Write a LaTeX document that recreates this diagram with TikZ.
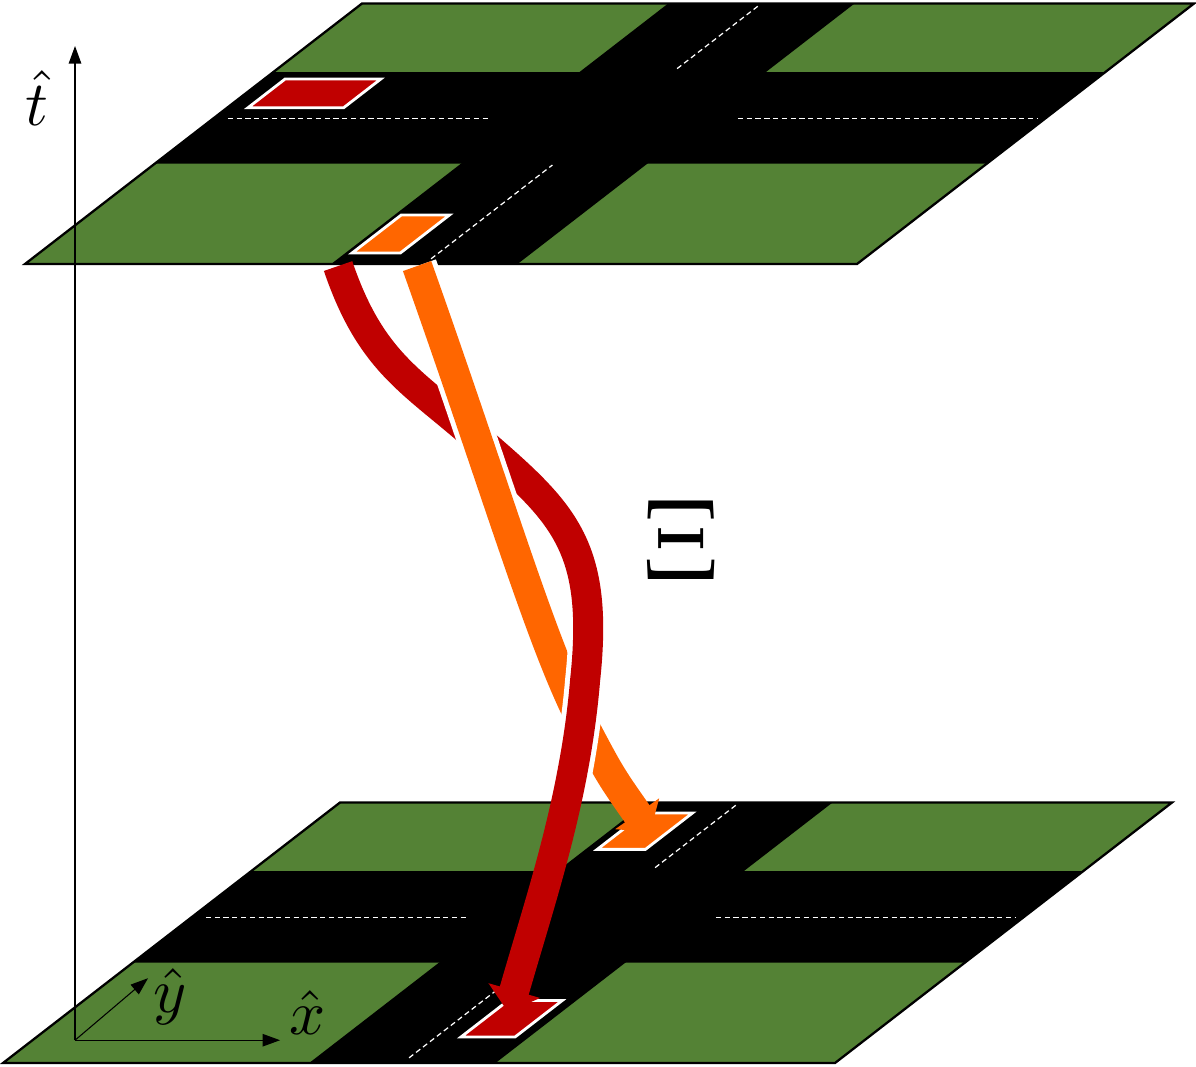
\documentclass[tikz,border=0pt]{standalone}
\usepackage{amsmath}
\usepackage{graphicx}
\usetikzlibrary{arrows.meta}
\definecolor{grass}{RGB}{84,130,53}
\definecolor{carred}{RGB}{192,0,0}
\definecolor{carorange}{RGB}{255,102,0}

% a patch of a plane, given by its two corners in plane coordinates
\newcommand{\patch}[4]{(#1,#2) -- (#3,#2) -- (#3,#4) -- (#1,#4) -- cycle}

% one crossroads scene, in unit coordinates of its plane
\newcommand{\crossing}{%
    \fill[grass] \patch{0}{0}{1}{1};
    \fill[black] \patch{0}{0.385}{1}{0.737};
    \fill[black] \patch{0.368}{0}{0.592}{1};
    \draw[lane] (0.017,0.56) -- (0.33,0.56);
    \draw[lane] (0.63,0.56) -- (0.99,0.56);
    \draw[lane] (0.48,0.02) -- (0.48,0.38);
    \draw[lane] (0.48,0.75) -- (0.48,0.99);
    \draw[line width=1.3pt, line join=miter] \patch{0}{0}{1}{1};
}

\begin{document}
\begin{tikzpicture}[
    lane/.style={white, dash pattern=on 3pt off 2pt, line width=0.7pt},
    car/.style={draw=white, line width=1.6pt},
    plane/.style={x={(16.64cm,0cm)}, y={(6.74cm,5.21cm)}},
    ribbon/.style={line width=0.6cm, -{Triangle[length=0.45cm,width=1.05cm]}},
    casing/.style={white, line width=0.8cm},
    axis/.style={-{Triangle[length=0.35cm,width=0.25cm]}, line width=0.6pt},
    label/.style={inner sep=0pt}
]
    \useasboundingbox (0,0) rectangle (23.92,-21.32);

    % scene at the start time
    \begin{scope}[shift={(0.06,-21.26)}, plane]
        \crossing
        \filldraw[car, fill=carred] \patch{0.51}{0.1}{0.575}{0.24};
        \filldraw[car, fill=carorange] \patch{0.382}{0.82}{0.44}{0.96};
    \end{scope}

    % scene at the later time
    \begin{scope}[shift={(0.5,-5.28)}, plane]
        \crossing
        \filldraw[car, fill=carred] \patch{0.025}{0.6}{0.14}{0.71};
        \filldraw[car, fill=carorange] \patch{0.376}{0.042}{0.434}{0.188};
    \end{scope}

    % trajectories between the two scenes
    \begin{scope}[x=0.02cm, y=-0.02cm]
        \coordinate (redA) at (338,266);
        \coordinate (redB) at (470,432);
        \coordinate (redC) at (585,680);
        \coordinate (redD) at (508,1012);
        \coordinate (orA) at (417,266);
        \coordinate (orB) at (582,722);
        \coordinate (orC) at (650,832);

        \draw[ribbon, carred] (redA) .. controls (370,360) and (410,380) .. (redB)
            .. controls (560,510) and (600,540) .. (redC)
            .. controls (575,800) and (540,900) .. (redD);

        \draw[casing] (orA) .. controls (500,500) and (540,640) .. (orB);
        \draw[ribbon, carorange] (orA) .. controls (500,500) and (540,640) .. (orB)
            .. controls (610,775) .. (orC);

        \begin{scope}
            \clip (0,610) rectangle (1196,775);
            \draw[casing] (redB) .. controls (560,510) and (600,540) .. (redC)
                .. controls (575,800) and (540,900) .. (redD);
            \draw[carred, line width=0.6cm] (redB) .. controls (560,510) and (600,540) .. (redC)
                .. controls (575,800) and (540,900) .. (redD);
        \end{scope}

        \node[label] (xi) at (681,540) {\scalebox{6.6}{$\Xi$}};

        % axes
        \coordinate (o) at (75,1040);
        \coordinate (tend) at (75,46);
        \coordinate (xend) at (280,1040);
        \coordinate (yend) at (148,978);
        \draw[axis] (o) -- (tend);
        \draw[axis] (o) -- (xend);
        \draw[axis] (o) -- (yend);
        \node[label] (tlab) at (37,98) {\scalebox{3.6}{$\hat{t}$}};
        \node[label] (xlab) at (308,1012) {\scalebox{3.6}{$\hat{x}$}};
        \node[label] (ylab) at (170,996) {\scalebox{3.6}{$\hat{y}$}};
    \end{scope}
\end{tikzpicture}
\end{document}
